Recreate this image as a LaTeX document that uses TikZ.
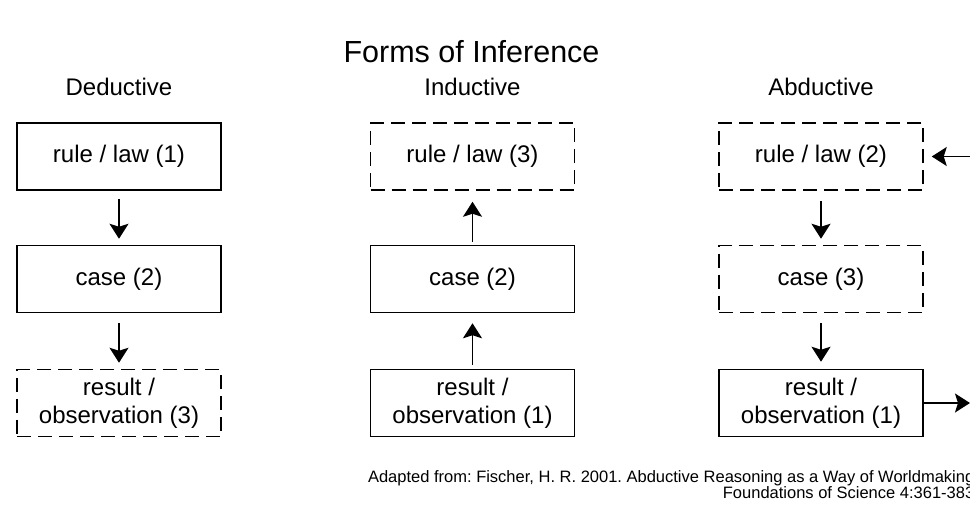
\documentclass[tikz,border=0pt]{standalone}
\usepackage{fontspec}
\setmainfont{Liberation Sans}
\usetikzlibrary{arrows.meta}
\frenchspacing

\begin{document}
\begin{tikzpicture}[x=1pt, y=-1pt, line width=1.5pt, font=\fontsize{24}{28}\selectfont]
        \tikzset{stage/.style={draw, rectangle, minimum height=67pt,
                 minimum width=204pt, inner sep=0pt, align=center},
                 guess/.style={stage, dash pattern=on 14pt off 7pt},
                 head/.style={font=\fontsize{24}{28}\selectfont},
                 flow/.style={-{Stealth[length=15pt,width=19pt,inset=3pt]}}}
        \useasboundingbox (0,0) rectangle (970,504);
        %% Titel und Spaltenkoepfe
        \node[font=\fontsize{30.5}{36}\selectfont] (ttl) at (471.5,52) {Forms of Inference};
        \node[head] (hded) at (119,87)   {Deductive};
        \node[head] (hind) at (472.5,87) {Inductive};
        \node[head] (habd) at (821,87)   {Abductive};
        %% Deduktion
        \node[stage] (drule) at (119,156.5) {rule / law (1)};
        \node[stage] (dcase) at (119,279)   {case (2)};
        \node[guess] (dres)  at (119,403)   {result /\\observation (3)};
        \draw[flow, shorten <=8pt, shorten >=6pt] (drule) -- (dcase);
        \draw[flow, shorten <=10pt, shorten >=6pt] (dcase) -- (dres);
        %% Induktion
        \node[guess] (irule) at (472.5,156.5) {rule / law (3)};
        \node[stage] (icase) at (472.5,279)   {case (2)};
        \node[stage] (ires)  at (472.5,403)   {result /\\observation (1)};
        \draw[flow, shorten <=3pt, shorten >=11pt] (icase) -- (irule);
        \draw[flow, shorten <=4pt, shorten >=10pt] (ires) -- (icase);
        %% Abduktion
        \node[guess] (arule) at (821,156.5) {rule / law (2)};
        \node[guess] (acase) at (821,279)   {case (3)};
        \node[stage] (ares)  at (821,403)   {result /\\observation (1)};
        \draw[flow, shorten <=10pt, shorten >=6pt] (arule) -- (acase);
        \draw[flow, shorten <=10pt, shorten >=7pt] (acase) -- (ares);
        %% Rueckkopplung (rechter Rand)
        \coordinate (fin)  at (972,156.5);
        \coordinate (fout) at (970,403);
        \draw[flow, shorten >=8pt] (fin) -- (arule);
        \draw[flow] (ares) -- (fout);
        %% Quelle
        \node[anchor=south east, align=right, inner sep=0pt,
              font=\fontsize{16.5}{15.5}\selectfont] (src) at (975,499)
              {Adapted from: Fischer, H. R. 2001. Abductive Reasoning as a Way of Worldmaking\\
               Foundations of Science 4:361-383};
    \end{tikzpicture}
\end{document}
